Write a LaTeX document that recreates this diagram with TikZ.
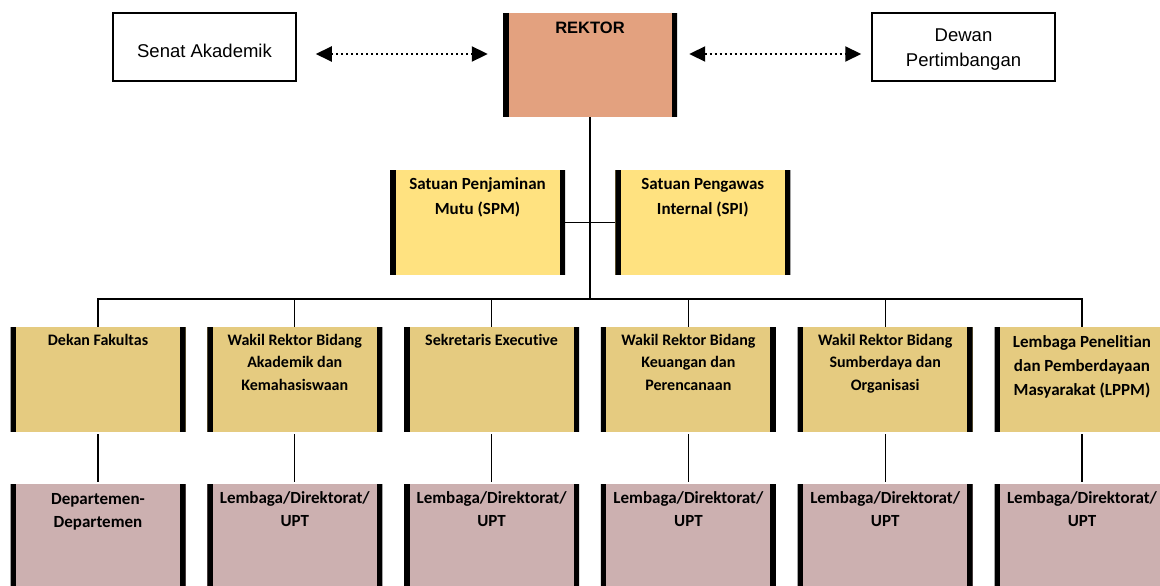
\documentclass[tikz,border=0pt]{standalone}
\usepackage{fontspec}
\setmainfont{Carlito}[Ligatures={NoCommon}]
\newfontfamily\arialfont{Liberation Sans}
\usepackage{xcolor}
\usetikzlibrary{arrows.meta,positioning}

\definecolor{rektorfill}{RGB}{227,161,127}
\definecolor{staffill}{RGB}{255,226,128}
\definecolor{unitfill}{RGB}{229,203,128}
\definecolor{subfill}{RGB}{204,176,176}

\begin{document}
\begin{tikzpicture}[x=1pt,y=-1pt]
		\tikzstyle{bar_box}=[inner sep=0pt, minimum width=175pt, minimum height=105pt, path picture={
			\draw[line width=11pt] (path picture bounding box.north west) -- (path picture bounding box.south west)
				(path picture bounding box.north east) -- (path picture bounding box.south east);}]
		\tikzstyle{rektor_box}=[bar_box, fill=rektorfill, minimum width=174pt, minimum height=104pt]
		\tikzstyle{staff_box}=[bar_box, fill=staffill]
		\tikzstyle{unit_box}=[bar_box, fill=unitfill]
		\tikzstyle{sub_box}=[bar_box, fill=subfill]
		\tikzstyle{side_box}=[draw, line width=1.5pt, minimum width=183pt, minimum height=68pt]
		\tikzstyle{side_text}=[inner sep=0pt, align=center, font=\arialfont\fontsize{18.5}{25}\selectfont]
		\tikzstyle{box_text}=[inner sep=0pt, align=center, font=\bfseries\fontsize{16}{22.7}\selectfont]
		\tikzstyle{sub_text}=[box_text, font=\bfseries\fontsize{17}{23}\selectfont]
		\tikzstyle{link}=[line width=2pt, dash pattern=on 2pt off 3pt, {Triangle[length=16pt,width=15pt]}-{Triangle[length=16pt,width=15pt]}]
		\tikzstyle{conn}=[line width=1.3pt]

		\useasboundingbox (0,0) rectangle (1160,586);

		% top
		\node (rektor) [rektor_box] at (590,65) {};
		\node (rektor_t) [box_text, font=\arialfont\bfseries\fontsize{16.5}{20}\selectfont, below=9pt of rektor.north] {REKTOR};
		\node (senat) [side_box] at (204.5,47) {};
		\node (senat_t) [side_text] at ([yshift=-3.5pt]senat.center) {Senat Akademik};
		\node (dewan) [side_box] at (963.5,47) {};
		\node (dewan_t) [side_text] at ([yshift=-3pt]dewan.center) {Dewan\\Pertimbangan};

		\node (spm) [staff_box] at (477.5,222.5) {};
		\node (spm_t) [sub_text, font=\bfseries\fontsize{17}{25}\selectfont, below=8pt of spm.north] {Satuan Penjaminan\\Mutu (SPM)};
		\node (spi) [staff_box] at (702.75,222.5) {};
		\node (spi_t) [sub_text, font=\bfseries\fontsize{17}{25}\selectfont, below=8pt of spi.north] {Satuan Pengawas\\Internal (SPI)};

		% units
		\begin{scope}[node distance=196.8pt]
			\node [unit_box] (dekan) at (98,379.5) {};
			\node [unit_box] (wr_akd) [right of=dekan] {};
			\node [unit_box] (sekr) [right of=wr_akd] {};
			\node [unit_box] (wr_keu) [right of=sekr] {};
			\node [unit_box] (wr_sdo) [right of=wr_keu] {};
			\node [unit_box] (lppm) [right of=wr_sdo] {};
		\end{scope}
		\node (dekan_t) [box_text, below=7pt of dekan.north] {Dekan Fakultas};
		\node (wr_akd_t) [box_text, below=7pt of wr_akd.north] {Wakil Rektor Bidang\\Akademik dan\\Kemahasiswaan};
		\node (sekr_t) [box_text, below=7pt of sekr.north] {Sekretaris Executive};
		\node (wr_keu_t) [box_text, below=7pt of wr_keu.north] {Wakil Rektor Bidang\\Keuangan dan\\Perencanaan};
		\node (wr_sdo_t) [box_text, below=7pt of wr_sdo.north] {Wakil Rektor Bidang\\Sumberdaya dan\\Organisasi};
		\node (lppm_t) [box_text, font=\bfseries\fontsize{17}{24}\selectfont, below=8.5pt of lppm.north] {Lembaga Penelitian\\dan Pemberdayaan\\Masyarakat (LPPM)};

		% sub units
		\begin{scope}[node distance=157pt]
			\node [sub_box] (dekan_sub) [below of=dekan] {};
			\node [sub_box] (wr_akd_sub) [below of=wr_akd] {};
			\node [sub_box] (sekr_sub) [below of=sekr] {};
			\node [sub_box] (wr_keu_sub) [below of=wr_keu] {};
			\node [sub_box] (wr_sdo_sub) [below of=wr_sdo] {};
			\node [sub_box] (lppm_sub) [below of=lppm] {};
		\end{scope}
		\node (dekan_sub_t) [sub_text, below=9pt of dekan_sub.north] {Departemen-\\Departemen};
		\foreach \u in {wr_akd,sekr,wr_keu,wr_sdo,lppm}
			\node (\u_sub_t) [sub_text, below=8pt of \u_sub.north] {Lembaga/Direktorat/\\UPT};

		% connectors
		\coordinate (bus) at (590,299);
		\draw [conn] (rektor) -- (bus);
		\draw [conn] (spm) -- (spi);
		\draw [conn] (dekan.north) |- (bus) -| (lppm.north);
		\foreach \u in {wr_akd,sekr,wr_keu,wr_sdo}
			\draw [conn] (\u.north) -- (\u.north |- bus);
		\foreach \u in {dekan,wr_akd,sekr,wr_keu,wr_sdo,lppm}
			\draw [conn, shorten <=2pt, shorten >=2pt] (\u) -- (\u_sub);

		\coordinate (arr_l) at ([yshift=-7pt]senat.east);
		\draw [link, shorten <=19pt, shorten >=15pt] (arr_l) -- (arr_l -| rektor.west);
		\coordinate (arr_r) at ([yshift=-7pt]dewan.west);
		\draw [link, shorten <=12pt, shorten >=10pt] (arr_r -| rektor.east) -- (arr_r);

	\end{tikzpicture}
\end{document}
